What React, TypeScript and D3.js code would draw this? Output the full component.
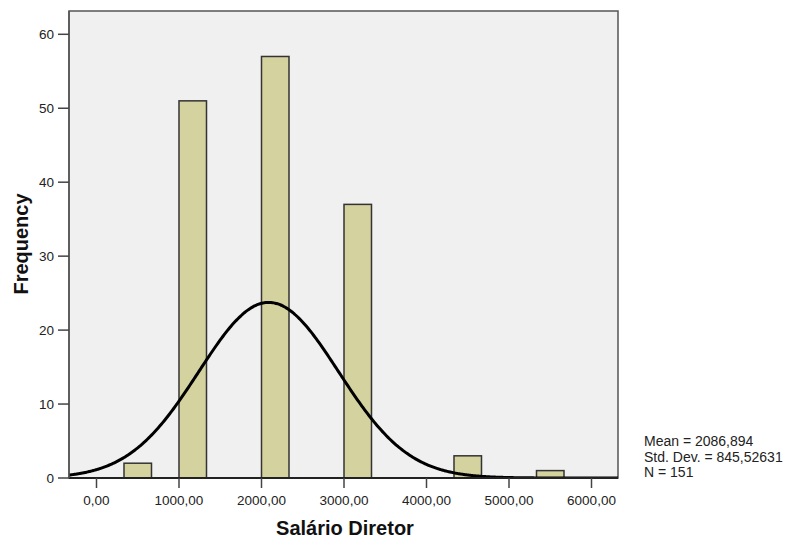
import React from "react";
import * as d3 from "d3";

const binStarts = [333.333, 1000, 2000, 3000, 4333.333, 5333.333];
const binCounts = [2, 51, 57, 37, 3, 1];
const binWidth = 333.333;
const xTicks = [0, 1000, 2000, 3000, 4000, 5000, 6000];
const yTicks = [0, 10, 20, 30, 40, 50, 60];
const mean = 2086.894;
const stdDev = 845.52631;
const nTotal = 151;
const statsLines = ["Mean = 2086,894", "Std. Dev. = 845,52631", "N = 151"];

const W = 788;
const H = 538;
const left = 69;
const right = 618;
const top = 11;
const bottom = 478;
const font = "'Liberation Sans', Arial, sans-serif";

export default function App() {
  const x = d3.scaleLinear().domain([-333.333, 6333.333]).range([left, right + 1]);
  const y = d3.scaleLinear().domain([0, 63.15]).range([bottom, top]);
  const fmt = (v: number) => v.toFixed(2).replace(".", ",");

  const curvePts: [number, number][] = [];
  const [d0, d1] = x.domain();
  for (let i = 0; i <= 400; i++) {
    const v = d0 + ((d1 - d0) * i) / 400;
    const dens =
      (Math.exp(-0.5 * ((v - mean) / stdDev) ** 2) / (stdDev * Math.sqrt(2 * Math.PI))) *
      nTotal *
      binWidth;
    curvePts.push([v, dens]);
  }
  const line = d3
    .line<[number, number]>()
    .x((d) => x(d[0]))
    .y((d) => y(d[1]))
    .curve(d3.curveBasis);

  return (
    <svg width={W} height={H} style={{ position: "absolute", left: 0, top: 0, background: "#fff" }}>
      <defs>
        <clipPath id="plotclip">
          <rect x={left} y={top} width={right - left} height={bottom - top} />
        </clipPath>
      </defs>
      <rect x={left} y={top} width={right - left} height={bottom - top} fill="#f0f0f0" stroke="#555" strokeWidth={1.5} />
      {binStarts.map((s, i) => (
        <rect
          key={i}
          x={x(s)}
          y={y(binCounts[i])}
          width={x(s + binWidth) - x(s)}
          height={bottom - y(binCounts[i])}
          fill="#d4d29e"
          stroke="#333"
          strokeWidth={1.5}
        />
      ))}
      <path d={line(curvePts) || ""} fill="none" stroke="#000" strokeWidth={3} clipPath="url(#plotclip)" />
      <line x1={left} x2={right} y1={bottom} y2={bottom} stroke="#222" strokeWidth={2} />
      <line x1={left} x2={left} y1={top} y2={bottom} stroke="#555" strokeWidth={1.5} />
      {yTicks.map((t) => (
        <g key={t}>
          <line x1={left - 11} x2={left} y1={y(t)} y2={y(t)} stroke="#444" strokeWidth={1.5} />
          <text x={left - 15} y={y(t)} dy="0.36em" textAnchor="end" fontFamily={font} fontSize={13.5} fill="#222">
            {t}
          </text>
        </g>
      ))}
      {xTicks.map((t) => (
        <g key={t}>
          <line x1={x(t)} x2={x(t)} y1={bottom} y2={bottom + 10} stroke="#444" strokeWidth={1.5} />
          <text x={x(t)} y={505} textAnchor="middle" fontFamily={font} fontSize={13.5} fill="#222">
            {fmt(t)}
          </text>
        </g>
      ))}
      <text x={345} y={535} textAnchor="middle" fontFamily={font} fontSize={20} fontWeight="bold" fill="#111">
        Salário Diretor
      </text>
      <text
        transform={`translate(28,244) rotate(-90)`}
        textAnchor="middle"
        fontFamily={font}
        fontSize={20}
        fontWeight="bold"
        fill="#111"
      >
        Frequency
      </text>
      {statsLines.map((s, i) => (
        <text key={i} x={644} y={446 + i * 15.5} fontFamily={font} fontSize={14} fill="#222">
          {s}
        </text>
      ))}
    </svg>
  );
}
